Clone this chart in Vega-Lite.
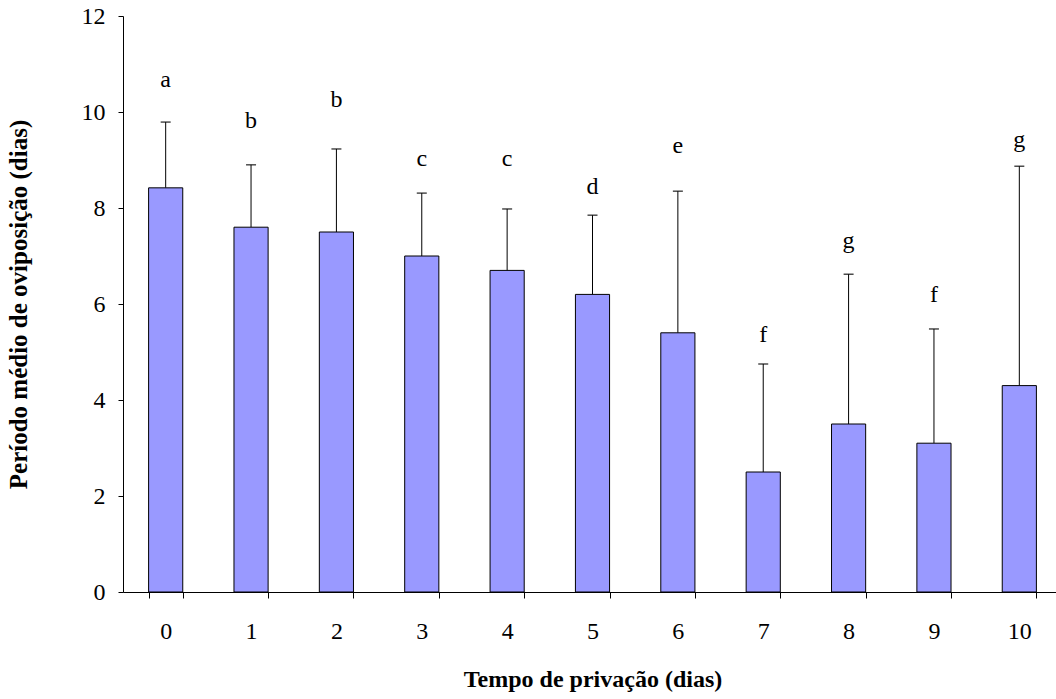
{
  "$schema": "https://vega.github.io/schema/vega-lite/v6.json",
  "autosize": {"type": "none"},
  "padding": {"left": 123, "top": 16, "right": 0, "bottom": 107},
  "width": 939,
  "height": 576,
  "background": "white",
  "config": {
    "view": {"stroke": null},
    "font": "Times New Roman",
    "axis": {"labelFont": "Times New Roman", "titleFont": "Times New Roman", "labelColor": "black", "titleColor": "black", "domainColor": "black", "tickColor": "black", "grid": false}
  },
  "data": {
    "values": [
      {"dia": "0", "media": 8.42, "sup": 9.79, "letra": "a", "letra_y": 10.52},
      {"dia": "1", "media": 7.6, "sup": 8.9, "letra": "b", "letra_y": 9.67},
      {"dia": "2", "media": 7.5, "sup": 9.23, "letra": "b", "letra_y": 10.1},
      {"dia": "3", "media": 7.0, "sup": 8.31, "letra": "c", "letra_y": 8.87},
      {"dia": "4", "media": 6.7, "sup": 7.98, "letra": "c", "letra_y": 8.87},
      {"dia": "5", "media": 6.2, "sup": 7.85, "letra": "d", "letra_y": 8.29},
      {"dia": "6", "media": 5.4, "sup": 8.35, "letra": "e", "letra_y": 9.15},
      {"dia": "7", "media": 2.5, "sup": 4.75, "letra": "f", "letra_y": 5.21},
      {"dia": "8", "media": 3.5, "sup": 6.62, "letra": "g", "letra_y": 7.17},
      {"dia": "9", "media": 3.1, "sup": 5.48, "letra": "f", "letra_y": 6.04},
      {"dia": "10", "media": 4.3, "sup": 8.87, "letra": "g", "letra_y": 9.27}
    ]
  },
  "encoding": {
    "x": {
      "field": "dia", "type": "ordinal", "sort": null,
      "scale": {"paddingInner": 0.6, "paddingOuter": 0.3},
      "axis": {"title": "Tempo de privação (dias)", "labelAngle": 0, "labelFontSize": 24, "titleFontSize": 24, "titleFontWeight": "bold", "tickBand": "extent", "tickSize": 6, "labelPadding": 21, "titlePadding": 24, "domainWidth": 1, "tickWidth": 1}
    }
  },
  "layer": [
    {
      "mark": {"type": "rule", "color": "black", "strokeWidth": 1},
      "encoding": {
        "y": {"field": "media", "type": "quantitative"},
        "y2": {"field": "sup"}
      }
    },
    {
      "mark": {"type": "tick", "color": "black", "thickness": 1.5, "size": 10, "orient": "horizontal"},
      "encoding": {
        "y": {"field": "sup", "type": "quantitative"}
      }
    },
    {
      "mark": {"type": "bar", "fill": "#9999FF", "stroke": "black", "strokeWidth": 1},
      "encoding": {
        "y": {
          "field": "media", "type": "quantitative",
          "scale": {"domain": [0, 12], "nice": false},
          "axis": {"title": "Período médio de oviposição (dias)", "values": [0, 2, 4, 6, 8, 10, 12], "labelFontSize": 24, "titleFontSize": 25, "titleFontWeight": "bold", "tickSize": 5, "labelPadding": 13, "titlePadding": 50, "domainWidth": 1, "tickWidth": 1}
        }
      }
    },
    {
      "mark": {"type": "text", "fontSize": 24, "font": "Times New Roman", "baseline": "alphabetic", "color": "black"},
      "encoding": {
        "y": {"field": "letra_y", "type": "quantitative"},
        "text": {"field": "letra"}
      }
    }
  ]
}
